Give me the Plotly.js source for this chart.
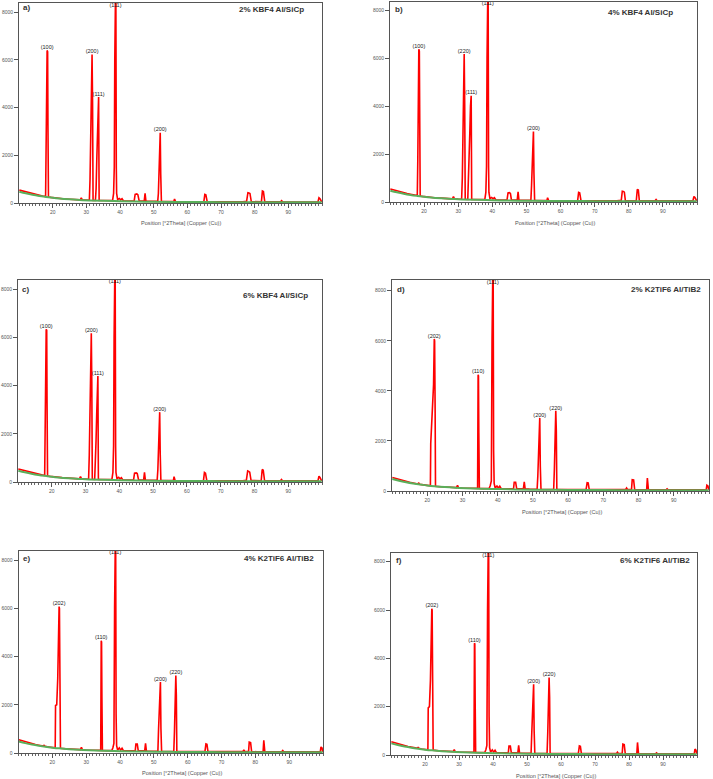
<!DOCTYPE html>
<html>
<head>
<meta charset="utf-8">
<script src="https://cdn.plot.ly/plotly-3.0.1.min.js"></script>
<style>
  html, body { margin: 0; padding: 0; background: #fff; }
  #chart { width: 713px; height: 779px; }
</style>
</head>
<body>
<div id="chart"></div>
<script>
// XRD scans: [2θ (deg), counts]
const scanA = [[10.1,540],[11,505],[12,465],[13,425],[14,390],[15,355],[16,325],[17,295],[17.9,270],[18.05,1700],[18.2,4800],[18.35,6400],[18.5,6350],[18.6,3300],[18.75,250],[19.5,235],[21,205],[23,180],[25,160],[27,140],[28.2,130],[28.5,215],[28.8,130],[30,120],[30.9,115],[31.1,1000],[31.3,3100],[31.5,5200],[31.7,6230],[31.85,4200],[32.0,110],[32.7,105],[32.9,600],[33.1,1800],[33.3,2800],[33.5,3900],[33.65,4450],[33.8,105],[35,100],[36.5,95],[37.8,110],[38.1,400],[38.3,1500],[38.45,6000],[38.6,9800],[38.75,9800],[38.9,1500],[39.0,400],[39.3,140],[39.8,190],[40.2,130],[40.6,180],[41,95],[42.5,85],[44.2,80],[44.5,360],[45.0,380],[45.3,350],[45.7,85],[46.8,80],[47.2,90],[47.45,400],[47.7,85],[48.5,75],[50.5,70],[51.2,70],[51.4,400],[51.6,1500],[51.8,2400],[51.95,2950],[52.1,1200],[52.3,65],[53,60],[55.5,60],[56.0,60],[56.2,170],[56.5,60],[58,55],[61,55],[63,55],[64.9,55],[65.2,360],[65.5,340],[65.9,55],[68,50],[71,50],[74,50],[76.5,50],[77.6,70],[78.0,430],[78.3,420],[78.6,400],[79.0,60],[80.5,50],[82.0,50],[82.3,500],[82.6,480],[83.0,50],[85,50],[87.7,50],[88.0,100],[88.3,50],[91,45],[94,45],[97,45],[98.8,45],[99.1,220],[99.4,180],[99.9,45]];

const scanB = [[10.1,545],[11,505],[12,465],[13,425],[14,390],[15,355],[16,325],[17,295],[18.0,270],[18.15,1750],[18.3,4800],[18.45,6375],[18.6,6300],[18.7,3300],[18.85,250],[19.5,235],[21,205],[23,180],[25,160],[27,140],[28.3,130],[28.6,230],[28.9,130],[30,120],[31.0,115],[31.2,1000],[31.4,3100],[31.6,5200],[31.75,6180],[31.9,4100],[32.05,110],[32.8,105],[33.0,800],[33.2,1950],[33.4,2900],[33.6,4000],[33.8,4430],[33.95,105],[35,100],[36.5,95],[37.8,110],[38.1,400],[38.3,1500],[38.45,6000],[38.6,9800],[38.75,9800],[38.9,1500],[39.0,400],[39.3,140],[39.8,190],[40.2,130],[40.6,180],[41,95],[42.5,85],[44.3,80],[44.6,380],[45.0,390],[45.3,360],[45.6,85],[46.8,80],[47.3,90],[47.55,420],[47.8,85],[48.5,75],[50.5,70],[51.3,70],[51.5,700],[51.7,1600],[51.9,2400],[52.05,2940],[52.2,1200],[52.4,65],[53,60],[56.0,60],[56.2,180],[56.5,60],[58,55],[61,55],[63,55],[65.0,55],[65.3,400],[65.6,380],[66.0,55],[68,50],[71,50],[74,50],[76.5,50],[77.8,70],[78.1,450],[78.4,440],[78.7,410],[79.0,60],[80.5,50],[82.2,50],[82.5,530],[82.8,500],[83.1,50],[85,50],[87.7,50],[88.0,100],[88.3,50],[91,45],[94,45],[97,45],[98.8,45],[99.1,230],[99.4,190],[99.9,45]];

const scanC = [[10.1,540],[11,505],[12,465],[13,425],[14,390],[15,355],[16,325],[17,295],[17.9,270],[18.05,1750],[18.2,4800],[18.35,6340],[18.5,6300],[18.6,3300],[18.75,250],[19.5,235],[21,205],[23,180],[25,160],[27,140],[28.2,130],[28.5,230],[28.8,130],[30,120],[30.9,115],[31.1,1100],[31.3,3100],[31.5,5200],[31.7,6170],[31.85,4100],[32.0,110],[32.7,105],[32.9,700],[33.1,1700],[33.3,2800],[33.5,3900],[33.65,4400],[33.8,105],[35,100],[36.5,95],[37.8,110],[38.1,400],[38.3,1500],[38.45,6000],[38.6,9800],[38.75,9800],[38.9,1500],[39.0,400],[39.3,140],[39.8,190],[40.2,130],[40.6,180],[41,95],[42.5,85],[44.2,80],[44.5,370],[45.0,380],[45.3,350],[45.7,85],[46.8,80],[47.2,90],[47.45,400],[47.7,85],[48.5,75],[50.5,70],[51.2,70],[51.4,500],[51.6,1500],[51.8,2400],[51.95,2900],[52.1,1200],[52.3,65],[53,60],[55.5,60],[56.0,60],[56.2,220],[56.5,60],[58,55],[61,55],[63,55],[64.9,55],[65.2,400],[65.5,370],[65.9,55],[68,50],[71,50],[74,50],[76.5,50],[77.6,70],[78.0,460],[78.3,440],[78.6,410],[79.0,60],[80.5,50],[82.0,50],[82.3,520],[82.6,490],[83.0,50],[85,50],[87.7,50],[88.0,100],[88.3,50],[91,45],[94,45],[97,45],[98.8,45],[99.1,240],[99.4,190],[99.9,45]];

const scanD = [[10.1,540],[11,500],[12,460],[13,420],[14,385],[15,350],[16,320],[17,290],[17.4,280],[17.6,330],[17.8,270],[19,245],[20.5,220],[20.9,210],[21.0,1900],[21.5,3100],[21.8,4250],[22.0,6070],[22.1,6000],[22.25,3100],[22.35,190],[24,170],[26,150],[28.3,135],[28.6,230],[28.9,130],[30,120],[32,110],[34.3,105],[34.45,4640],[34.55,4600],[34.65,2330],[34.8,100],[36,95],[37.6,110],[37.9,220],[38.2,400],[38.4,6000],[38.55,9800],[38.7,9800],[38.85,1600],[39.0,300],[39.3,120],[39.8,200],[40.2,120],[40.6,190],[41,95],[43,85],[44.5,90],[44.7,350],[45.1,350],[45.4,90],[46.8,85],[47.3,90],[47.55,370],[47.8,85],[49,75],[51.2,70],[51.4,600],[51.6,1900],[51.8,2400],[51.95,2920],[52.1,1000],[52.3,65],[54,60],[55.9,60],[56.1,870],[56.3,2430],[56.5,3200],[56.65,2400],[56.8,60],[58,55],[61,55],[63,55],[65.1,55],[65.4,330],[65.7,320],[66.0,55],[68,50],[71,50],[74,50],[76.3,55],[76.6,120],[76.9,55],[78.0,60],[78.2,450],[78.6,440],[78.9,60],[80.5,50],[82.3,60],[82.5,520],[82.8,60],[85,50],[87.8,50],[88.1,90],[88.4,50],[91,45],[94,45],[97,45],[99.2,45],[99.4,230],[99.7,200],[99.95,45]];

const scanE = [[10.1,545],[11,505],[12,465],[13,425],[14,390],[15,355],[16,325],[17,295],[17.4,285],[17.6,330],[17.8,275],[19,250],[20.5,225],[20.85,215],[20.95,1970],[21.3,2000],[21.6,3100],[21.8,4300],[22.0,6070],[22.1,6000],[22.25,3100],[22.4,200],[24,175],[26,155],[28.3,140],[28.6,240],[28.9,135],[30,125],[32,115],[34.3,108],[34.45,4650],[34.55,4600],[34.65,2350],[34.8,105],[36,100],[37.6,110],[37.9,220],[38.2,400],[38.4,6000],[38.55,9800],[38.7,9800],[38.85,1600],[39.0,300],[39.3,120],[39.8,210],[40.2,120],[40.6,200],[41,95],[43,85],[44.5,90],[44.7,370],[45.1,370],[45.4,90],[46.8,85],[47.3,90],[47.55,400],[47.8,85],[49,75],[51.2,70],[51.4,1000],[51.6,2000],[51.8,2450],[51.95,2940],[52.1,1000],[52.3,65],[54,60],[55.9,60],[56.1,900],[56.3,2400],[56.5,3210],[56.65,2400],[56.8,60],[58,55],[61,55],[63,55],[65.1,55],[65.4,380],[65.7,360],[66.0,55],[68,50],[71,50],[74,50],[76.3,55],[76.6,130],[76.9,55],[78.0,60],[78.2,450],[78.6,430],[78.9,60],[80.5,50],[82.3,60],[82.5,530],[82.8,60],[85,50],[87.8,50],[88.1,100],[88.4,50],[91,45],[94,45],[97,45],[99.2,45],[99.4,250],[99.7,210],[99.95,45]];

const scanF = [[10.1,545],[11,505],[12,465],[13,425],[14,390],[15,355],[16,325],[17,295],[17.8,280],[18.0,330],[18.2,275],[19,250],[20.5,225],[20.85,215],[20.95,1950],[21.3,2000],[21.6,3100],[21.8,4300],[22.0,6050],[22.1,6000],[22.25,3100],[22.4,200],[24,175],[26,155],[28.3,140],[28.6,220],[28.9,135],[30,125],[32,115],[34.4,108],[34.55,4630],[34.65,4600],[34.75,2300],[34.9,105],[36,100],[37.6,110],[37.9,220],[38.2,400],[38.4,6000],[38.55,9800],[38.7,9800],[38.85,1600],[39.0,300],[39.3,120],[39.8,210],[40.2,120],[40.6,200],[41,95],[43,85],[44.5,90],[44.7,370],[45.1,370],[45.4,90],[46.8,85],[47.3,90],[47.55,400],[47.8,85],[49,75],[51.2,70],[51.4,900],[51.6,1900],[51.8,2400],[51.95,2930],[52.1,1000],[52.3,65],[54,60],[55.9,60],[56.1,900],[56.3,2400],[56.5,3210],[56.65,2400],[56.8,60],[58,55],[61,55],[63,55],[65.1,55],[65.4,380],[65.7,360],[66.0,55],[68,50],[71,50],[74,50],[76.3,55],[76.6,120],[76.9,55],[78.0,60],[78.2,450],[78.6,430],[78.9,60],[80.5,50],[82.3,60],[82.5,520],[82.8,60],[85,50],[87.8,50],[88.1,90],[88.4,50],[91,45],[94,45],[97,45],[99.2,45],[99.4,240],[99.7,200],[99.95,45]];

// fitted backgrounds: [2θ, counts]
const bgSiC = [[10.1,470],[12,405],[14,345],[16,295],[18,255],[20,220],[22,190],[25,155],[28,128],[31,108],[35,90],[40,74],[45,62],[50,53],[55,46],[60,41],[70,36],[80,32],[90,30],[99.9,28]];
const bgTiB = [[10.1,480],[12,410],[14,350],[16,300],[18,258],[20,222],[22,192],[25,157],[28,130],[31,110],[35,92],[40,76],[45,63],[50,54],[55,47],[60,42],[70,36],[80,32],[90,30],[99.9,28]];

// reflection labels: [2θ, counts, hkl]
const labelsA = [[18.35,6400,'(100)'],[31.7,6230,'(200)'],[33.65,4450,'(111)'],[38.65,8300,'(111)'],[51.95,2950,'(200)']];
const labelsB = [[18.45,6375,'(100)'],[31.75,6180,'(220)'],[33.8,4430,'(111)'],[38.65,8260,'(111)'],[52.05,2940,'(200)']];
const labelsC = [[18.35,6340,'(100)'],[31.7,6170,'(200)'],[33.65,4400,'(111)'],[38.65,8300,'(111)'],[51.95,2900,'(200)']];
const labelsD = [[22.0,6070,'(202)'],[34.45,4640,'(110)'],[38.6,8340,'(111)'],[51.95,2920,'(200)'],[56.5,3200,'(220)']];
const labelsE = [[22.0,6070,'(202)'],[34.45,4650,'(110)'],[38.6,8290,'(111)'],[51.95,2940,'(200)'],[56.5,3210,'(220)']];
const labelsF = [[22.0,6050,'(202)'],[34.55,4630,'(110)'],[38.6,8270,'(111)'],[51.95,2930,'(200)'],[56.5,3210,'(220)']];

const sampleNames = ['2% KBF4 Al/SiCp', '4% KBF4 Al/SiCp', '6% KBF4 Al/SiCp',
                     '2% K2TiF6 Al/TiB2', '4% K2TiF6 Al/TiB2', '6% K2TiF6 Al/TiB2'];
const panelTags = ['a)', 'b)', 'c)', 'd)', 'e)', 'f)'];
const xTickVals = [20, 30, 40, 50, 60, 70, 80, 90];
const yTickVals = [0, 2000, 4000, 6000, 8000];
const xAxisLabel = 'Position [°2Theta] (Copper (Cu))';

// page geometry in pixels
const W = 713, H = 779;
const px = v => v / W;
const py = v => 1 - v / H;

const panels = [
  { scan: scanA, bg: bgSiC, labels: labelsA, box: {l: 19, r: 322, t: 3, b: 203}, ymax: 8390,
    name: [306, 10], tag: [21, 8], xt: [181, 223] },
  { scan: scanB, bg: bgSiC, labels: labelsB, box: {l: 390, r: 697, t: 2, b: 202}, ymax: 8346,
    name: [675, 12], tag: [393, 10], xt: [555, 223] },
  { scan: scanC, bg: bgSiC, labels: labelsC, box: {l: 18, r: 322, t: 280, b: 482}, ymax: 8386,
    name: [310, 295], tag: [19.5, 289], xt: null },
  { scan: scanD, bg: bgTiB, labels: labelsD, box: {l: 392, r: 709, t: 280, b: 491}, ymax: 8427,
    name: [703, 289], tag: [395, 289], xt: [562, 512] },
  { scan: scanE, bg: bgTiB, labels: labelsE, box: {l: 18.5, r: 323, t: 551, b: 753}, ymax: 8373,
    name: [316, 558], tag: [21, 558], xt: [182, 773] },
  { scan: scanF, bg: bgTiB, labels: labelsF, box: {l: 391, r: 697, t: 553, b: 755}, ymax: 8360,
    name: [692, 560], tag: [394, 560], xt: [556, 776] }
];

const FONT = 'Liberation Sans, Arial, sans-serif';
const traces = [];
const layout = {
  width: W, height: H,
  margin: {l: 0, r: 0, t: 0, b: 0},
  paper_bgcolor: '#fff', plot_bgcolor: '#fff',
  showlegend: false,
  font: {family: FONT, color: '#444'},
  annotations: []
};

panels.forEach((p, i) => {
  const n = i + 1;
  const xa = 'x' + n, ya = 'y' + n;
  const xkey = 'xaxis' + n, ykey = 'yaxis' + n;

  traces.push({
    type: 'scatter', mode: 'lines', xaxis: xa, yaxis: ya,
    x: p.scan.map(d => d[0]), y: p.scan.map(d => d[1]),
    line: {color: 'rgb(255,0,0)', width: 1.6}, hoverinfo: 'skip'
  });
  traces.push({
    type: 'scatter', mode: 'lines', xaxis: xa, yaxis: ya,
    x: p.bg.map(d => d[0]), y: p.bg.map(d => d[1]),
    line: {color: 'rgb(90,175,90)', width: 2, shape: 'spline'}, hoverinfo: 'skip'
  });
  traces.push({
    type: 'scatter', mode: 'text', xaxis: xa, yaxis: ya,
    x: p.labels.map(d => d[0]), y: p.labels.map(d => d[1]),
    text: p.labels.map(d => d[2]),
    textposition: p.labels.map(d => d[1] > 8000 ? 'middle center' : 'top center'),
    textfont: {family: FONT, size: 5.5, color: '#222'},
    cliponaxis: false, hoverinfo: 'skip'
  });

  layout[xkey] = {
    domain: [px(p.box.l), px(p.box.r)], anchor: ya,
    range: [10, 100], showgrid: false, zeroline: false,
    showline: true, mirror: true, linecolor: '#555', linewidth: 1,
    ticks: 'outside', ticklen: 4, tickcolor: '#555', tickwidth: 1,
    tickmode: 'array', tickvals: xTickVals, ticktext: xTickVals.map(String),
    tickfont: {family: FONT, size: 5, color: '#555'},
    minor: {ticks: 'outside', ticklen: 2, tickcolor: '#666', tickmode: 'linear', tick0: 0, dtick: 1},
    fixedrange: true
  };
  layout[ykey] = {
    domain: [py(p.box.b), py(p.box.t)], anchor: xa,
    range: [0, p.ymax], showgrid: false, zeroline: false,
    showline: true, mirror: true, linecolor: '#555', linewidth: 1,
    ticks: 'outside', ticklen: 4, tickcolor: '#555',
    tickmode: 'array', tickvals: yTickVals, ticktext: yTickVals.map(String),
    tickfont: {family: FONT, size: 5, color: '#555'},
    fixedrange: true
  };

  layout.annotations.push({
    xref: 'paper', yref: 'paper', x: px(p.name[0]), y: py(p.name[1]),
    xanchor: 'right', yanchor: 'middle', showarrow: false,
    text: '<b>' + sampleNames[i] + '</b>',
    font: {family: FONT, size: 8, color: '#333'}
  });
  layout.annotations.push({
    xref: 'paper', yref: 'paper', x: px(p.tag[0]), y: py(p.tag[1]),
    xanchor: 'left', yanchor: 'middle', showarrow: false,
    text: '<b>' + panelTags[i] + '</b>',
    font: {family: FONT, size: 8, color: '#333'}
  });
  if (p.xt) {
    layout.annotations.push({
      xref: 'paper', yref: 'paper', x: px(p.xt[0]), y: py(p.xt[1]),
      xanchor: 'center', yanchor: 'middle', showarrow: false,
      text: xAxisLabel,
      font: {family: FONT, size: 5.6, color: '#555'}
    });
  }
});

Plotly.newPlot('chart', traces, layout, {staticPlot: true, displayModeBar: false});
</script>
</body>
</html>
